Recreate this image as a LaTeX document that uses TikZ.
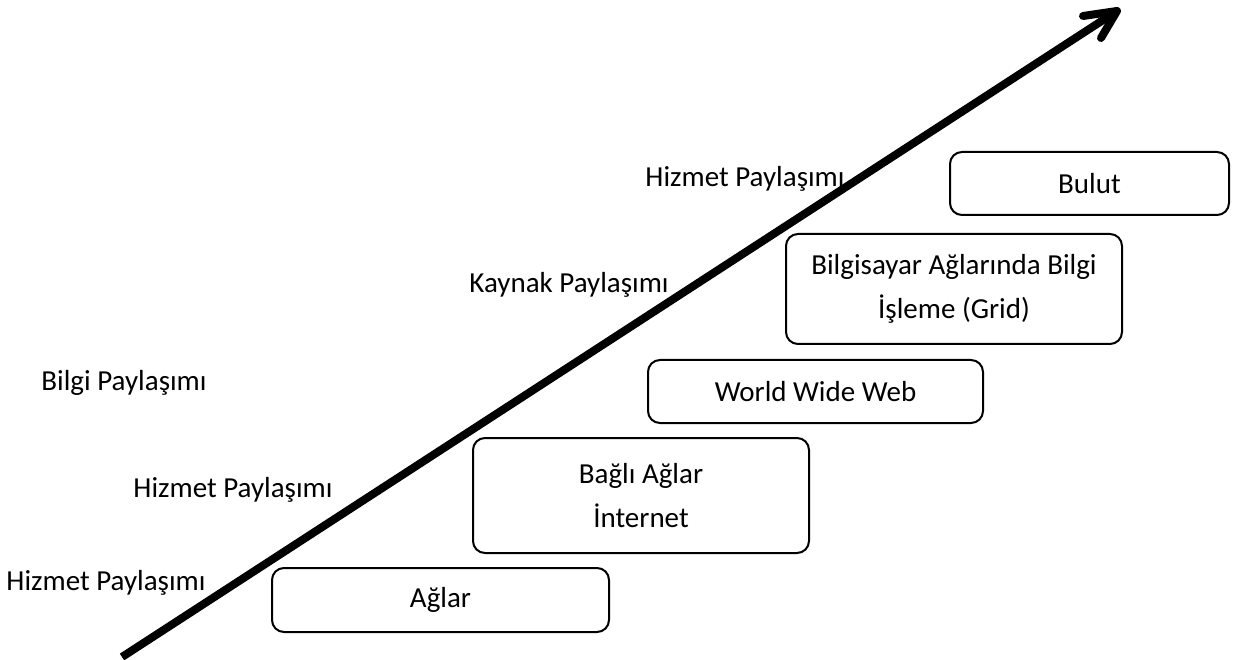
\documentclass[tikz,border=0pt]{standalone}
\usepackage{fontspec}
\setmainfont{Carlito}
\begin{document}
\begin{tikzpicture}[x=1pt,y=-1pt,
  stage/.style={draw=black,line width=2pt,rounded corners=12pt,align=center,
    font=\fontsize{29}{44}\selectfont,inner sep=0pt},
  era/.style={font=\fontsize{29}{44}\selectfont,inner sep=0pt},
  trend/.style={line width=8pt,line cap=butt},
  head/.style={line width=8pt,line cap=round,line join=round}]
\useasboundingbox (0,0) rectangle (1235,660);
% growth arrow
\coordinate (start) at (122,657);
\coordinate (tip) at (1117,11);
\coordinate (armA) at (1083,16);
\coordinate (armB) at (1101,38);
\draw[trend] (start) -- (tip);
\draw[head] (armA) -- (tip) -- (armB);
% stages
\node[stage,minimum width=337pt,minimum height=64pt] (aglar) at (440.5,600) {Ağlar};
\node[stage,minimum width=336pt,minimum height=115pt] (bagli) at (641,495.5) {Bağlı Ağlar\\İnternet};
\node[stage,minimum width=335pt,minimum height=63pt] (www) at (815.5,391.5) {World Wide Web};
\node[stage,minimum width=336pt,minimum height=110pt] (grid) at (954,289) {Bilgisayar Ağlarında Bilgi\\İşleme (Grid)};
\node[stage,minimum width=279pt,minimum height=63pt] (bulut) at (1089.5,183.5) {Bulut};
% sharing labels
\node[era] (l1) at (106,583) {Hizmet Paylaşımı};
\node[era] (l2) at (233,490) {Hizmet Paylaşımı};
\node[era] (l3) at (124,383) {Bilgi Paylaşımı};
\node[era] (l4) at (569,285) {Kaynak Paylaşımı};
\node[era] (l5) at (745,179) {Hizmet Paylaşımı};
\end{tikzpicture}
\end{document}
